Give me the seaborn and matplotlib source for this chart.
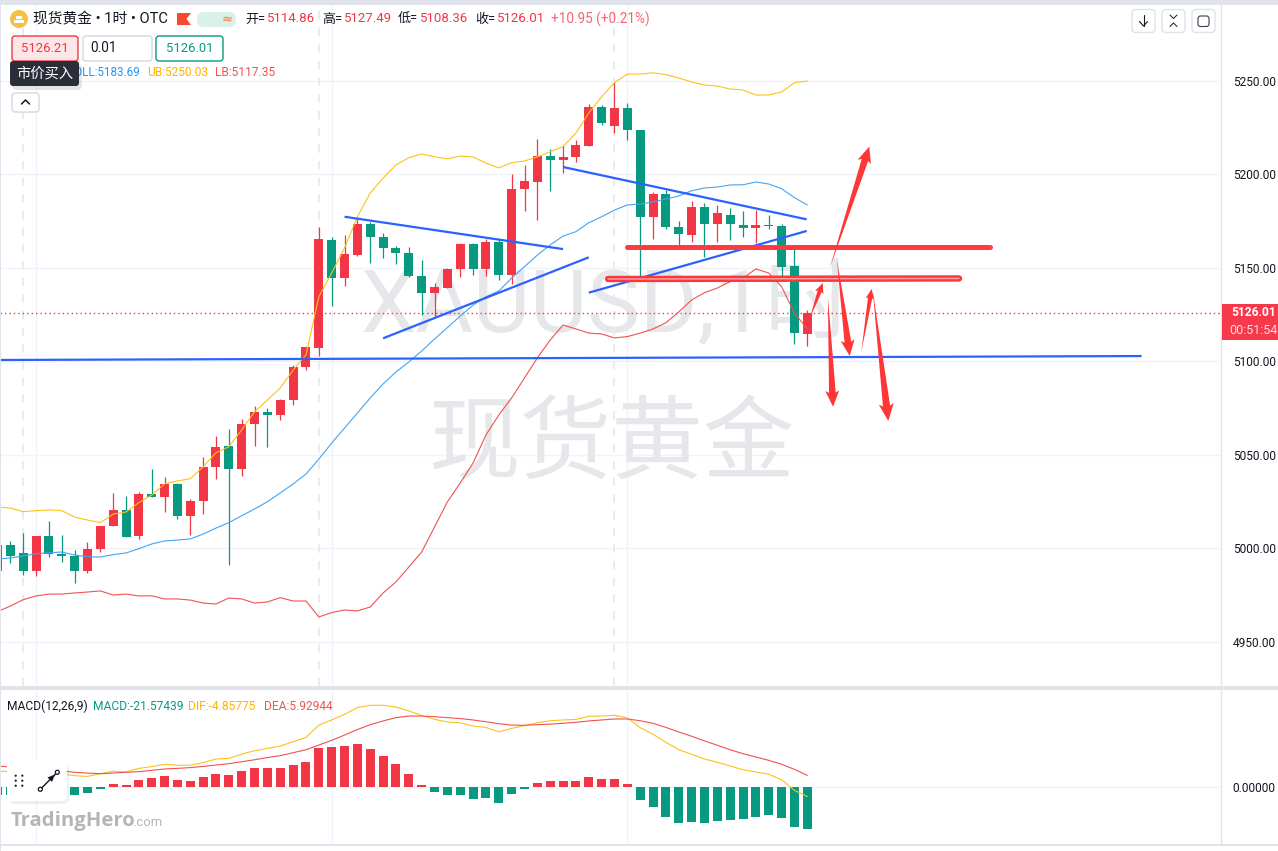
import matplotlib
matplotlib.use("Agg")
import matplotlib.pyplot as plt
import matplotlib.patches as mpatches
import numpy as np
import pandas as pd
import seaborn as sns

# candles (index is position on the time axis)
opens = [4987.9, 5001.9, 4997.6, 4987.9, 5006.7, 4997.1, 4996.0, 4987.9, 4999.7, 5012.0,
         5020.6, 5006.7, 5029.1, 5027.5, 5034.5, 5017.4, 5025.4, 5043.6, 5054.8, 5042.5,
         5066.6, 5073.0, 5071.4, 5079.4, 5097.0, 5107.2, 5165.0, 5144.6, 5157.0, 5173.5,
         5166.6, 5160.7, 5158.0, 5145.7, 5136.6, 5139.3, 5149.5, 5162.8, 5149.5, 5163.9,
         5146.2, 5192.2, 5196.0, 5209.9, 5207.8, 5209.4, 5215.2, 5236.1, 5225.9, 5235.6,
         5223.8, 5177.3, 5189.6, 5171.9, 5167.6, 5182.6, 5173.5, 5178.3, 5173.0, 5171.4,
         5173.0, 5172.4, 5151.1, 5114.86]
closes = [5001.9, 4996.0, 4987.9, 5006.7, 4997.1, 4996.0, 4987.9, 4999.7, 5012.0, 5020.6,
          5006.1, 5029.1, 5027.5, 5034.5, 5017.4, 5025.4, 5043.6, 5054.3, 5042.5, 5066.6,
          5073.0, 5071.4, 5079.4, 5097.0, 5107.7, 5165.5, 5144.6, 5157.5, 5173.5, 5166.6,
          5160.7, 5158.0, 5145.7, 5136.6, 5139.8, 5149.5, 5162.8, 5149.5, 5163.9, 5146.2,
          5192.2, 5196.5, 5209.9, 5207.8, 5209.4, 5215.8, 5236.1, 5227.5, 5235.6, 5223.8,
          5177.3, 5189.6, 5171.9, 5168.2, 5182.6, 5173.5, 5179.4, 5173.5, 5171.4, 5173.0,
          5172.4, 5150.5, 5115.2, 5126.01]
highs = [5001.9, 5004.0, 5008.3, 5006.7, 5014.7, 5007.2, 4999.2, 5003.5, 5012.0, 5029.7,
         5028.1, 5030.2, 5042.5, 5038.2, 5035.0, 5026.5, 5048.9, 5060.2, 5063.9, 5069.2,
         5076.2, 5075.1, 5079.9, 5098.1, 5107.7, 5171.9, 5166.6, 5167.6, 5176.2, 5174.6,
         5168.7, 5161.8, 5161.2, 5154.3, 5142.0, 5150.0, 5163.4, 5163.4, 5165.5, 5165.0,
         5200.3, 5205.1, 5219.0, 5213.6, 5215.8, 5218.4, 5237.7, 5237.2, 5249.5, 5238.2,
         5223.8, 5190.6, 5191.7, 5175.1, 5185.8, 5184.8, 5183.7, 5182.1, 5180.5, 5181.0,
         5178.3, 5173.5, 5160.2, 5127.49]
lows = [4987.9, 4992.2, 4985.8, 4985.3, 4995.4, 4992.8, 4981.5, 4986.9, 4998.1, 5012.0,
        5006.1, 5005.1, 5027.5, 5019.5, 5015.8, 5007.2, 5018.4, 5037.2, 4991.2, 5038.8,
        5054.8, 5054.3, 5068.7, 5076.7, 5095.4, 5102.9, 5129.7, 5140.4, 5156.4, 5152.7,
        5155.3, 5152.1, 5145.2, 5124.9, 5123.3, 5139.3, 5145.2, 5146.2, 5145.7, 5143.6,
        5141.4, 5180.5, 5175.7, 5191.2, 5200.8, 5206.7, 5215.2, 5226.5, 5222.2, 5218.4,
        5145.7, 5165.5, 5170.9, 5162.3, 5163.9, 5155.9, 5163.9, 5165.0, 5166.6, 5163.4,
        5170.9, 5145.7, 5109.3, 5108.36]

# bollinger bands
boll_up = [5022.2, 5021.6, 5019.7, 5020.2, 5020.6, 5020.2, 5016.8, 5015.2, 5013.8, 5018.4,
           5019.5, 5024.5, 5028.6, 5034.5, 5036.1, 5037.3, 5043.7, 5051.2, 5054.4, 5063.4,
           5073.1, 5079.4, 5085.8, 5095.4, 5103.5, 5134.6, 5147.3, 5160.7, 5177.4, 5190.1,
           5198.1, 5205.1, 5209.0, 5211.0, 5209.5, 5208.4, 5209.9, 5209.4, 5206.1, 5203.5,
           5206.3, 5207.2, 5209.4, 5212.2, 5214.9, 5222.2, 5232.9, 5241.6, 5249.1, 5253.7,
           5253.7, 5254.4, 5253.4, 5251.6, 5249.5, 5247.9, 5247.3, 5245.7, 5245.2, 5242.5,
           5242.5, 5244.1, 5249.1, 5250.03]
boll_mid = [4994.4, 4994.9, 4996.0, 4997.2, 4997.7, 4998.1, 4996.5, 4995.6, 4995.4, 4996.7,
            4997.6, 4999.9, 5002.4, 5004.0, 5004.5, 5005.1, 5007.7, 5010.9, 5013.8, 5017.5,
            5021.1, 5025.0, 5029.7, 5034.5, 5039.8, 5047.8, 5056.4, 5064.4, 5072.4, 5080.5,
            5088.0, 5094.4, 5099.7, 5105.6, 5112.0, 5118.1, 5124.3, 5130.2, 5134.6, 5137.7,
            5144.6, 5150.7, 5156.9, 5162.3, 5167.1, 5169.4, 5174.2, 5177.4, 5181.0, 5183.7,
            5184.2, 5185.3, 5186.9, 5188.5, 5191.3, 5192.8, 5193.3, 5194.4, 5194.5, 5196.0,
            5194.9, 5192.4, 5187.6, 5183.69]
boll_low = [4966.2, 4969.2, 4972.6, 4974.6, 4975.6, 4975.6, 4976.2, 4976.7, 4977.3, 4975.1,
            4975.6, 4974.6, 4974.7, 4973.0, 4973.0, 4972.4, 4970.8, 4970.3, 4973.5, 4973.0,
            4970.8, 4971.4, 4973.7, 4971.9, 4971.9, 4963.4, 4965.7, 4967.1, 4966.6, 4968.7,
            4976.2, 4982.1, 4990.1, 4998.1, 5011.5, 5024.9, 5035.0, 5045.7, 5060.7, 5071.4,
            5080.5, 5091.2, 5101.9, 5111.5, 5119.5, 5117.4, 5115.2, 5114.7, 5112.6, 5113.3,
            5115.2, 5117.4, 5120.7, 5126.5, 5132.9, 5136.8, 5139.3, 5142.7, 5144.6, 5149.5,
            5147.3, 5140.0, 5125.9, 5117.35]

# macd pane
macd = [-4.1, -4.1, -4.6, -4.6, -4.1, -4.1, -4.1, -3.1, -1.0, 1.5,
        1.0, 3.6, 4.6, 5.6, 3.6, 3.1, 5.1, 6.6, 6.1, 8.2,
        9.7, 9.7, 9.7, 11.2, 12.8, 19.9, 20.4, 20.9, 21.9, 19.4,
        15.8, 11.7, 6.6, 1.0, -2.6, -4.1, -4.1, -6.1, -5.6, -8.2,
        -3.6, -1.0, 2.0, 3.1, 3.1, 3.1, 5.1, 4.1, 4.1, 1.5,
        -6.6, -10.2, -15.3, -18.4, -17.9, -18.4, -17.3, -16.8, -16.3, -15.3,
        -14.3, -15.8, -20.4, -21.57439]
dif = [8.2, 7.8, 7.5, 7.2, 6.9, 6.6, 5.8, 5.4, 6.8, 8.0,
       7.7, 9.5, 10.4, 11.6, 11.1, 11.1, 12.4, 14.3, 14.6, 16.8,
       18.5, 19.7, 20.9, 23.1, 25.3, 31.6, 34.2, 37.1, 40.5, 41.7,
       41.7, 40.8, 38.8, 36.5, 34.5, 33.2, 32.7, 31.1, 30.4, 28.2,
       29.9, 31.3, 32.8, 33.8, 34.2, 34.5, 36.1, 36.2, 36.6, 35.2,
       30.3, 26.9, 22.8, 19.0, 16.7, 14.3, 12.6, 10.7, 8.8, 7.7,
       6.5, 3.7, -1.7, -4.85775]
dea = [10.7, 10.2, 9.8, 9.4, 9.0, 8.2, 7.5, 7.1, 6.8, 7.1,
       7.5, 7.8, 8.5, 9.2, 9.5, 9.9, 10.5, 11.2, 11.9, 12.9,
       13.9, 15.0, 16.0, 17.5, 19.0, 21.4, 23.8, 26.5, 29.3, 31.8,
       33.7, 35.4, 36.2, 36.2, 35.9, 35.4, 34.9, 34.2, 33.3, 32.3,
       31.6, 31.5, 31.8, 32.1, 32.5, 33.0, 33.7, 34.2, 34.7, 34.7,
       33.8, 32.5, 30.4, 28.1, 25.9, 23.5, 21.3, 19.0, 17.0, 15.3,
       13.6, 11.6, 9.0, 5.92944]

price_ticks = [4950, 5000, 5050, 5100, 5150, 5200, 5250]
dashed_idx = [2, 25, 48]
solid_idx = [3, 26, 49]

# hand drawn lines: (start index, start price, end index, end price)
blue_lines = [(0.2, 5100.8, 89.0, 5102.9),
              (27.0, 5177.4, 44.0, 5160.1),
              (30.0, 5112.4, 46.0, 5155.7),
              (44.0, 5204.0, 62.95, 5176.0),
              (46.0, 5136.8, 62.95, 5169.8)]
red_line_top = (49.0, 5161.4, 77.2, 5161.4)
red_line_low = (47.5, 5144.1, 74.8, 5144.4)
# arrows: tail index, tail price, tip index, tip price, head size in px
arrows = [(64.75, 5150.0, 67.82, 5214.9, 14),
          (63.2, 5123.3, 64.2, 5142.0, 9),
          (64.6, 5134.5, 65.0, 5075.8, 14),
          (65.3, 5154.3, 66.3, 5102.9, 14),
          (67.2, 5105.2, 68.0, 5138.8, 9),
          (68.1, 5137.3, 69.3, 5068.2, 15)]

W, H = 1278, 851
RED = "#f23645"
GREEN = "#089981"
YELLOW = "#fcc21b"
BLUE = "#42a5f5"
LINE_RED = "#ef5350"
GRID = "#f0f3fa"
PANE = "#e0e3eb"
TEXT_RED = "#f23645"

sns.set_theme(style="white")
plt.rcParams["font.family"] = ["Roboto", "Noto Sans CJK SC", "DejaVu Sans"]

fig = plt.figure(figsize=(W / 100, H / 100), dpi=100, facecolor="white")


def pane(top, bottom):
    return fig.add_axes([0, 1 - bottom / H, 1221 / W, (bottom - top) / H])


ax = pane(5, 686)
ax_m = pane(690, 844)

idx = np.arange(len(opens))
df = pd.DataFrame({"idx": idx, "open": opens, "close": closes, "high": highs, "low": lows,
                   "up": boll_up, "mid": boll_mid, "lb": boll_low,
                   "macd": macd, "dif": dif, "dea": dea})
df["side"] = np.where(df["macd"] >= 0, "pos", "neg")

# main pane
for p in price_ticks:
    ax.axhline(p, color=GRID, lw=1, zorder=0)
for i in solid_idx:
    ax.axvline(i, color=GRID, lw=1, zorder=0)
for i in dashed_idx:
    ax.axvline(i, color="#e6e8ee", lw=1.2, ls=(0, (5, 5)), zorder=0)

ax.text(607 / 1221, 1 - (307 - 5) / 681, "XAUUSD,1时", color="#e6e7ea", fontsize=63.5,
        ha="center", va="center", transform=ax.transAxes, zorder=1)
ax.text(611 / 1221, 1 - (447 - 5) / 681, "现货黄金", color="#e6e7ea", fontsize=66,
        ha="center", va="center", transform=ax.transAxes, zorder=1)

candle_colors = [RED if c >= o else GREEN for o, c in zip(opens, closes)]
ax.vlines(df["idx"], df["low"], df["high"], colors=candle_colors, lw=0.9, zorder=3)
ax.bar(df["idx"], np.abs(df["close"] - df["open"]), bottom=df[["open", "close"]].min(axis=1),
       width=0.7, color=candle_colors, linewidth=0, zorder=3)

sns.lineplot(data=df, x="idx", y="up", color=YELLOW, lw=0.8, errorbar=None, ax=ax, zorder=4)
sns.lineplot(data=df, x="idx", y="mid", color=BLUE, lw=0.8, errorbar=None, ax=ax, zorder=4)
sns.lineplot(data=df, x="idx", y="lb", color=LINE_RED, lw=0.8, errorbar=None, ax=ax, zorder=4)

ax.axhline(closes[-1], color=RED, lw=1, ls=(0, (1, 2.2)), zorder=2)

for x0, y0, x1, y1 in blue_lines:
    ax.plot([x0, x1], [y0, y1], color="#2962ff", lw=1.6, zorder=5, solid_capstyle="butt")
x0, y0, x1, y1 = red_line_top
ax.plot([x0, x1], [y0, y1], color="#ff3b3f", lw=3.6, zorder=6, solid_capstyle="round")
x0, y0, x1, y1 = red_line_low
ax.plot([x0, x1], [y0, y1], color="#f9383c", lw=4.6, zorder=6, solid_capstyle="round")
ax.plot([x0, x1], [y0, y1], color="#ff9c9c", lw=1.1, zorder=6, solid_capstyle="round")

ax.set_xlim(0.198, 95.18)
ax.set_ylim(5250 - (686 - 81) * 0.5348, 5250 + (81 - 5) * 0.5348)
ax.set_yticks(price_ticks, [f"{p:.2f}" for p in price_ticks])
ax.set_xticks([])
ax.yaxis.tick_right()
ax.tick_params(axis="y", length=0, pad=8.4, labelsize=8.6, labelcolor="#131722")
ax.set_xlabel("")
ax.set_ylabel("")

# macd pane
ax_m.axhline(0, color=GRID, lw=1, zorder=0)
for i in solid_idx:
    ax_m.axvline(i, color=GRID, lw=1, zorder=0)
sns.barplot(data=df, x="idx", y="macd", hue="side", palette={"pos": RED, "neg": GREEN},
            native_scale=True, dodge=False, width=0.7, legend=False, errorbar=None,
            saturation=1, linewidth=0, ax=ax_m, zorder=3)
sns.lineplot(data=df, x="idx", y="dif", color=YELLOW, lw=0.8, errorbar=None, ax=ax_m, zorder=4)
sns.lineplot(data=df, x="idx", y="dea", color=LINE_RED, lw=0.8, errorbar=None, ax=ax_m, zorder=4)
ax_m.set_xlim(0.198, 95.18)
ax_m.set_ylim((787 - 844) / 1.96, (787 - 690) / 1.96)
ax_m.set_yticks([0], ["0.00000"])
ax_m.set_xticks([])
ax_m.yaxis.tick_right()
ax_m.tick_params(axis="y", length=0, pad=8.4, labelsize=8.6, labelcolor="#131722")
ax_m.set_xlabel("")
ax_m.set_ylabel("")

for a in (ax, ax_m):
    sns.despine(ax=a, left=True, bottom=True, top=True, right=False)
    a.spines["right"].set_color(PANE)
    a.spines["right"].set_linewidth(1)
    a.patch.set_alpha(0)

# interface layer, in screen pixels
ui = fig.add_axes([0, 0, 1, 1], zorder=10)
ui.set_xlim(0, W)
ui.set_ylim(H, 0)
ui.axis("off")


def label(x, y, s, color="#131722", size=12.0, ha="left", **kw):
    ui.text(x, y, s, color=color, fontsize=size * 0.72, ha=ha, va="center", **kw)


def box(x0, y0, x1, y1, face="white", edge="#e0e3eb", radius=3, lw=1, z=2, alpha=1):
    ui.add_patch(mpatches.FancyBboxPatch((x0, y0), x1 - x0, y1 - y0,
                                         boxstyle=f"round,pad=0,rounding_size={radius}",
                                         fc=face, ec=edge, lw=lw, zorder=z, alpha=alpha))


# pane separators
for y0, y1 in [(0, 5), (686, 690), (844, 846)]:
    ui.add_patch(mpatches.Rectangle((0, y0), W, y1 - y0, fc=PANE, lw=0))
ui.add_patch(mpatches.Rectangle((0, 0), 1.2, H, fc=PANE, lw=0))


# tapered arrows
def to_px(i, p):
    xd, yd = ax.transData.transform((i, p))
    return xd, H - yd


for x0, y0, x1, y1, head in arrows:
    a = np.array(to_px(x0, y0))
    b = np.array(to_px(x1, y1))
    d = (b - a) / np.hypot(*(b - a))
    n = np.array([-d[1], d[0]])
    neck = b - d * head * 1.0
    barb = b - d * head * 1.15
    pts = [a, neck + n * head * 0.24, barb + n * head * 0.5, b,
           barb - n * head * 0.5, neck - n * head * 0.24]
    ui.add_patch(mpatches.Polygon(pts, closed=True, fc="#ff3636", ec="none", zorder=1))

# header
ui.add_patch(mpatches.Circle((19, 19), 9, fc="#f4c145", lw=0))
for bx, by in [(16, 15.5), (13.5, 19.8), (18.5, 19.8)]:
    ui.add_patch(mpatches.Rectangle((bx, by), 5.5, 3.6, fc="white", lw=0))
label(33, 19, "现货黄金 • 1时 • OTC", size=14.7)
ui.add_patch(mpatches.Polygon([(177, 13), (191, 13), (186.5, 19), (191, 25), (177, 25)],
                              fc="#f6492f", lw=0))
box(197, 12, 236, 27, face="#d9f0eb", edge="none", radius=7)
ui.add_patch(mpatches.Circle((207, 19.5), 3.8, fc=GREEN, lw=0))
label(227, 19.5, "≈", color="#f28c4b", size=13, ha="center", fontweight="bold", family="DejaVu Sans")
for x, name, val in [(245, "开=", "5114.86"), (322, "高=", "5127.49"),
                     (398, "低=", "5108.36"), (475, "收=", "5126.01")]:
    label(x, 19, name, size=13)
    label(x + 22, 19, val, color=TEXT_RED, size=13.2)
label(551, 19, "+10.95 (+0.21%)", color="#f5646f", size=13.5)

box(12, 36, 78, 61, face="#fde6e8", edge=RED)
label(45, 48.5, "5126.21", color=TEXT_RED, size=13, ha="center")
box(83, 36, 152, 61, edge="#d5d8e0")
label(90, 48.5, "0.01", size=13.5)
box(156, 36, 223, 61, edge=GREEN)
label(189.5, 48.5, "5126.01", color=GREEN, size=13, ha="center")

# bollinger legend, tooltip sits over its first letter
label(140, 73, "BOLL:5183.69", color="#2196f3", size=11.6, ha="right")
label(147, 73, "UB:5250.03", color="#ffb300", size=12)
label(215, 73, "LB:5117.35", color=LINE_RED, size=12)
box(12, 64, 82, 90, face="#000000", edge="none", radius=5, z=3, alpha=0.10)
box(10, 61, 79, 86, face="#2a2e39", edge="none", radius=3, z=4)
ui.text(44.5, 73.5, "市价买入", color="white", fontsize=10.3, ha="center", va="center", zorder=5)

box(12, 93, 39, 112, edge="#d5d8e0")
ui.plot([21.5, 25.5, 29.5], [104, 100, 104], color="#131722", lw=1.1)

# top right buttons
for x0 in [1132, 1162, 1192]:
    box(x0, 9.5, x0 + 23, 32.5, edge="#dfe2ea", radius=4)
ui.plot([1143.5, 1143.5], [15, 26], color="#131722", lw=0.8)
ui.plot([1139.5, 1143.5, 1147.5], [21.5, 26, 21.5], color="#131722", lw=0.8)
ui.plot([1170, 1173.5, 1177], [15, 18.5, 15], color="#131722", lw=0.7)
ui.plot([1170, 1173.5, 1177], [26.5, 23, 26.5], color="#131722", lw=0.7)
box(1198, 16, 1209, 26.5, face="none", edge="#3a3d48", radius=2.5, lw=0.8)

# last price tag
ui.add_patch(mpatches.Rectangle((1221.5, 304), W - 1221.5, 36, fc="#f7394c", lw=0))
label(1253.5, 313, "5126.01", color="white", size=12, ha="center", fontweight="bold")
label(1253.5, 331, "00:51:54", color="#fde0e3", size=12.5, ha="center")

# macd legend
label(7, 706, "MACD(12,26,9)", size=12)
label(93, 706, "MACD:-21.57439", color=GREEN, size=12)
label(188, 706, "DIF:-4.85775", color="#ffb300", size=12)
label(264, 706, "DEA:5.92944", color=LINE_RED, size=12)

# drawing widget
box(9, 764, 69, 804, face="#000000", edge="none", radius=6, z=3, alpha=0.06)
box(7, 761, 67, 801, edge="none", radius=5, z=4)
for dx in [15.7, 22.3]:
    for dy in [775.7, 780.7, 785.7]:
        ui.add_patch(mpatches.Circle((dx, dy), 1.1, fc="#131722", lw=0, zorder=5))
ui.plot([40.3, 57.3], [789.3, 772.3], color="#131722", lw=1, zorder=5)
ui.add_patch(mpatches.Polygon([(55, 774.5), (47.5, 777.5), (52, 782)], fc="#131722", lw=0, zorder=5))
for cx, cy in [(40.3, 789.3), (57.3, 772.3)]:
    ui.add_patch(mpatches.Circle((cx, cy), 2, fc="white", ec="#131722", lw=0.9, zorder=6))

# logo
ui.text(11, 821, "TradingHero", color="#b5b5b5", fontsize=14.6, fontweight="bold", va="center",
        family="Open Sans", zorder=5)
label(133, 823, ".com", color="#b5b5b5", size=13, zorder=5)

fig.savefig("out.png", dpi=100)
plt.close(fig)
